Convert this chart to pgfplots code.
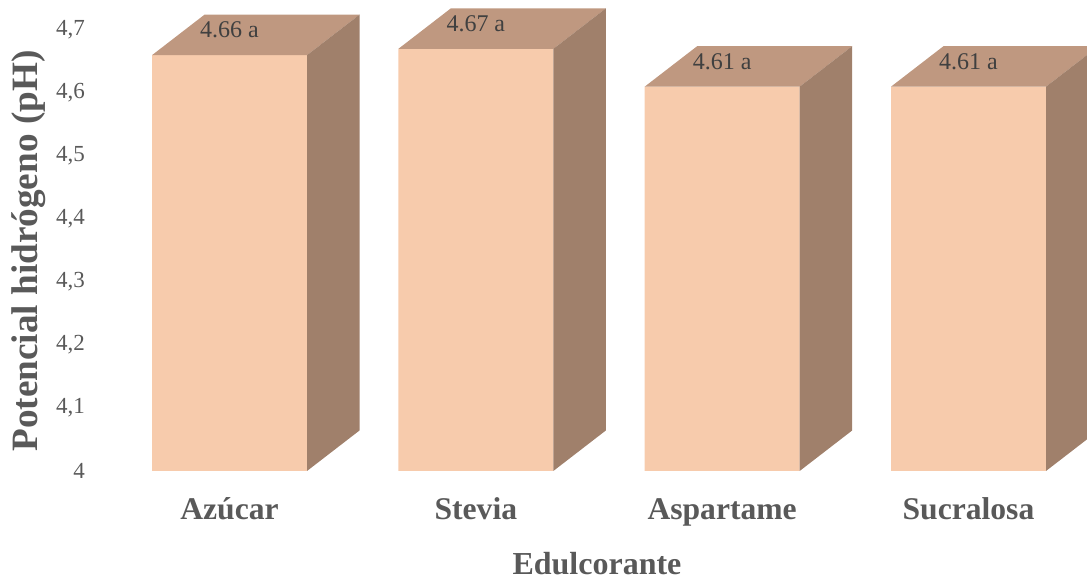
\documentclass[border=0pt]{standalone}
\usepackage{fontspec}
\setmainfont{Liberation Serif}
\usepackage{pgfplots}
\usepackage{pgfplotstable}
\pgfplotsset{compat=1.18}
\definecolor{frontc}{HTML}{F7CBAC}
\definecolor{topc}{HTML}{BF9880}
\definecolor{sidec}{HTML}{A0806B}
\definecolor{labc}{HTML}{595959}
\definecolor{valc}{HTML}{404040}

\pgfplotstableread{
x v
0 4.66
1 4.67
2 4.61
3 4.61
}\phdata

\newcommand\yu{315}
\pgfdeclareplotmark{box3d}{%
  \pgfmathsetmacro\hfront{-(\rawv-4)*\yu}%
  \pgfmathsetmacro\hback{20.25-(\rawv-4)*\yu}%
  \pgfpathmoveto{\pgfqpoint{-38.75pt}{0pt}}%
  \pgfpathlineto{\pgfqpoint{38.75pt}{0pt}}%
  \pgfpathlineto{\pgfqpoint{65pt}{20.25pt}}%
  \pgfpathlineto{\pgfqpoint{-12.5pt}{20.25pt}}%
  \pgfpathclose
  \pgfsetfillcolor{topc}%
  \pgfusepath{fill}%
  \pgfpathmoveto{\pgfqpoint{38.75pt}{0pt}}%
  \pgfpathlineto{\pgfqpoint{65pt}{20.25pt}}%
  \pgfpathlineto{\pgfpoint{65pt}{\hback pt}}%
  \pgfpathlineto{\pgfpoint{38.75pt}{\hfront pt}}%
  \pgfpathclose
  \pgfsetfillcolor{sidec}%
  \pgfusepath{fill}%
}

\begin{document}
\begin{tikzpicture}
\begin{axis}[
  x=123.165pt, y=315pt,
  xmin=-0.5582, xmax=3.4811,
  ymin=4, ymax=4.7476,
  axis line style={draw=none},
  major tick length=0pt,
  xtick={0,1,2,3},
  xticklabels={Azúcar,Stevia,Aspartame,Sucralosa},
  ytick={4,4.1,4.2,4.3,4.4,4.5,4.6,4.7},
  /pgf/number format/assume math mode=true,
  yticklabel style={/pgf/number format/.cd,fixed,precision=1,use comma,/tikz/.cd,
    font=\fontsize{11.5}{13}\selectfont, text=labc},
  xticklabel style={anchor=base, yshift=-24.5pt,
    font=\bfseries\fontsize{15.8}{18}\selectfont, text=labc},
  ylabel={Potencial hidrógeno (pH)},
  ylabel style={at={(axis description cs:-0.0633,0.467)}, anchor=center,
    font=\bfseries\fontsize{18.6}{21}\selectfont, text=labc},
  xlabel={Edulcorante},
  xlabel style={at={(axis description cs:0.5075,-0.2208)}, anchor=base,
    font=\bfseries\fontsize{16}{19}\selectfont, text=labc},
]
\addplot[ybar, bar width=77.5pt, bar shift=0pt, fill=frontc, draw=none]
  table[x=x, y=v] {\phdata};
\addplot[scatter, only marks, mark=box3d,
  scatter/@pre marker code/.code={}, scatter/@post marker code/.code={},
  visualization depends on={\thisrow{v} \as \rawv}]
  table[x=x, y=v] {\phdata};
\addplot[draw=none, mark=none, point meta=y,
  nodes near coords={\pgfmathprintnumber[fixed,fixed zerofill,precision=2]{\pgfplotspointmeta}~a},
  nodes near coords style={anchor=base, yshift=8.75pt, text=valc,
    font=\fontsize{12}{14}\selectfont}]
  table[x=x, y=v] {\phdata};
\coordinate (bbsw) at (axis cs:-0.9317,3.82698);
\coordinate (bbne) at (axis cs:3.4811,4.7476);
\end{axis}
\pgfresetboundingbox
\path[use as bounding box] (bbsw) rectangle (bbne);
\end{tikzpicture}
\end{document}
